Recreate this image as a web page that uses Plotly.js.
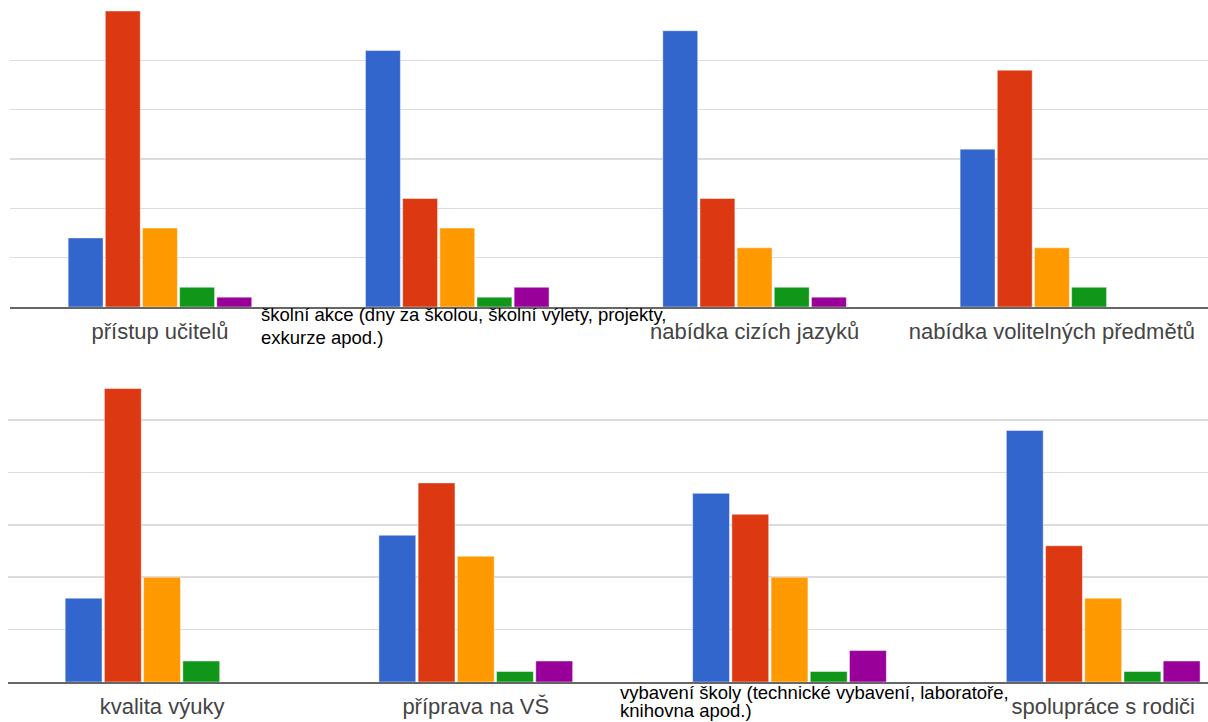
<!DOCTYPE html>
<html>
<head>
<meta charset="utf-8">
<script src="https://cdn.plot.ly/plotly-3.0.1.min.js"></script>
<style>html,body{margin:0;padding:0;background:#fff;}#chart{width:1208px;height:722px;}</style>
</head>
<body>
<div id="chart"></div>
<script>
// Categories
const catsTop = ['přístup učitelů', 'školní akce (dny za školou, školní výlety, projekty, exkurze apod.)', 'nabídka cizích jazyků', 'nabídka volitelných předmětů'];
const catsBottom = ['kvalita výuky', 'příprava na VŠ', 'vybavení školy (technické vybavení, laboratoře, knihovna apod.)', 'spolupráce s rodiči'];
// Tick labels (long ones shown as wrapped notes)
const tickTop = ['přístup učitelů', '', 'nabídka cizích jazyků', 'nabídka volitelných předmětů'];
const tickBottom = ['kvalita výuky', 'příprava na VŠ', '', 'spolupráce s rodiči'];
const noteTopLines = ['školní akce (dny za školou, školní výlety, projekty,', 'exkurze apod.)'];
const noteBottomLines = ['vybavení školy (technické vybavení, laboratoře,', 'knihovna apod.)'];
// Series names
const seriesNames = ['1', '2', '3', '4', '5'];
// Values, top panel
const s1Top = [7, 26, 28, 16];
const s2Top = [30, 11, 11, 24];
const s3Top = [8, 8, 6, 6];
const s4Top = [2, 1, 2, 2];
const s5Top = [1, 2, 1, 0];
// Values, bottom panel
const s1Bottom = [8, 14, 18, 24];
const s2Bottom = [28, 19, 16, 13];
const s3Bottom = [10, 12, 10, 8];
const s4Bottom = [2, 1, 1, 1];
const s5Bottom = [0, 2, 3, 2];

const colors = ['#3366cc', '#dc3912', '#ff9900', '#109618', '#990099'];
const topVals = [s1Top, s2Top, s3Top, s4Top, s5Top];
const botVals = [s1Bottom, s2Bottom, s3Bottom, s4Bottom, s5Bottom];

const traces = [];
topVals.forEach((v, i) => traces.push({
  type: 'bar', x: catsTop, y: v, name: seriesNames[i], xaxis: 'x', yaxis: 'y',
  marker: {color: colors[i], line: {color: 'rgba(255,255,255,0.45)', width: 1}}, showlegend: false
}));
botVals.forEach((v, i) => traces.push({
  type: 'bar', x: catsBottom, y: v, name: seriesNames[i], xaxis: 'x2', yaxis: 'y2',
  marker: {color: colors[i], line: {color: 'rgba(255,255,255,0.45)', width: 1}}, showlegend: false
}));

const W = 1208, H = 722;
const font = 'Arial, "Liberation Sans", sans-serif';
const tickFont = {family: font, size: 22, color: '#444'};
const noteFont = {family: font, size: 18.5, color: '#000'};

function note(text, xPx, yPx, anchor) {
  return {text: text, xref: 'paper', yref: 'paper', x: xPx / W, y: 1 - yPx / H,
    xanchor: 'left', yanchor: anchor || 'middle', align: 'left', showarrow: false,
    borderpad: 0, font: noteFont};
}

const layout = {
  width: W, height: H,
  margin: {l: 0, r: 0, t: 0, b: 0},
  paper_bgcolor: '#fff', plot_bgcolor: '#fff',
  barmode: 'group', bargap: 0.375, bargroupgap: 0.06,
  xaxis: {
    domain: [9.5 / W, 1], range: [-0.506, 3.525], type: 'category',
    tickmode: 'array', tickvals: catsTop, ticktext: tickTop, tickfont: tickFont,
    ticklabelstandoff: 4,
    showgrid: false, showline: true, linecolor: '#666', linewidth: 2, ticks: '',
    anchor: 'y', fixedrange: true
  },
  yaxis: {
    domain: [(H - 307) / H, (H - 11) / H], range: [0, 30],
    tickmode: 'array', tickvals: [5, 10, 15, 20, 25, 30], showticklabels: false,
    gridcolor: '#dcdcdc', gridwidth: 1.5, zeroline: false, anchor: 'x'
  },
  xaxis2: {
    domain: [8 / W, 1], range: [-0.491, 3.334], type: 'category',
    tickmode: 'array', tickvals: catsBottom, ticktext: tickBottom, tickfont: tickFont,
    ticklabelstandoff: 4,
    showgrid: false, showline: true, linecolor: '#666', linewidth: 2, ticks: '',
    anchor: 'y2', fixedrange: true
  },
  yaxis2: {
    domain: [(H - 682) / H, (H - 367.6) / H], range: [0, 30],
    tickmode: 'array', tickvals: [5, 10, 15, 20, 25], showticklabels: false,
    gridcolor: '#dcdcdc', gridwidth: 1.5, zeroline: false, anchor: 'x2'
  },
  annotations: [
    note(noteTopLines[0], 260, 315),
    note(noteTopLines[1], 260, 337),
    note(noteBottomLines[0], 619, 692),
    note(noteBottomLines[1], 619, 722, 'bottom')
  ]
};

Plotly.newPlot('chart', traces, layout, {displayModeBar: false, staticPlot: true});
</script>
</body>
</html>
